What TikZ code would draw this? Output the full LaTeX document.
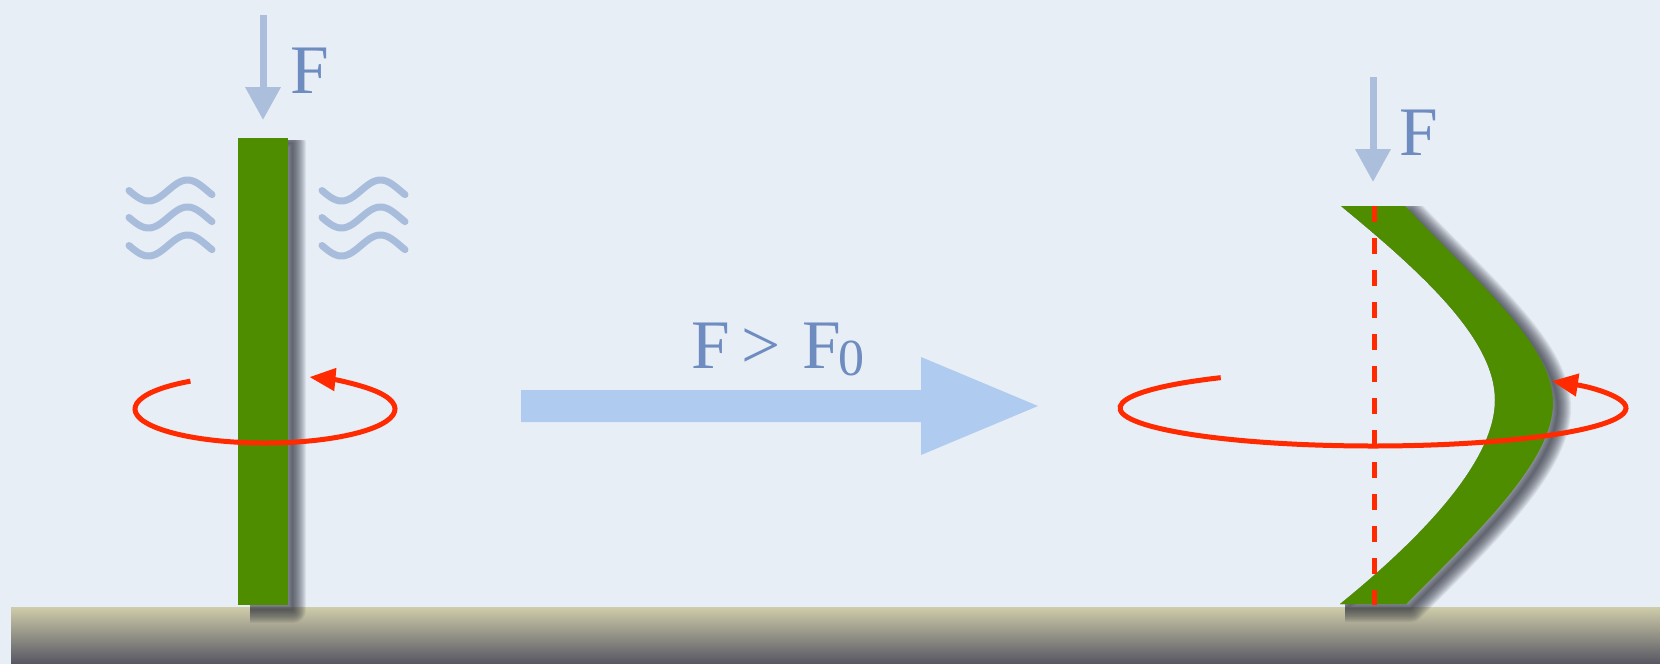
\documentclass[tikz,border=0pt]{standalone}
\usepackage{fontspec}
\setmainfont{Liberation Serif}
\usetikzlibrary{arrows.meta}
\definecolor{bg}{RGB}{232,238,246}
\definecolor{groundtop}{RGB}{207,204,170}
\definecolor{groundmid}{RGB}{150,148,124}
\definecolor{groundbot}{RGB}{86,86,98}
\definecolor{stem}{RGB}{79,141,0}
\definecolor{rotred}{RGB}{255,42,0}
\definecolor{fblue}{RGB}{171,191,221}
\definecolor{ftxt}{RGB}{110,140,192}
\definecolor{wavec}{RGB}{168,188,219}
\definecolor{bigarrow}{RGB}{175,203,240}
\definecolor{shadowc}{RGB}{40,44,56}
\tikzset{
  farrow/.style={draw=fblue, line width=7pt, -{Triangle[length=33pt,width=34pt]}},
  ftext/.style={text=ftxt, font=\fontsize{69.5}{70}\selectfont, inner sep=0pt},
  wave/.style={draw=wavec, line width=7pt, line cap=round},
  rotarrow/.style={draw=rotred, line width=5pt, -{Triangle[length=26pt,width=22pt]}},
  shadowlayer/.style={draw=shadowc, opacity=0.08, line join=round},
  shadowfill/.style={fill=shadowc, opacity=0.08},
}
\def\bentbar{(1341,206) -- (1405,206) .. controls (1480,285) and (1553,345) .. (1553,403)
    .. controls (1553,460) and (1480,530) .. (1406,604) -- (1340,604)
    .. controls (1425,535) and (1495,460) .. (1495,400)
    .. controls (1495,340) and (1425,275) .. cycle}
\begin{document}
\begin{tikzpicture}[x=1pt,y=-1pt]
\useasboundingbox (0,0) rectangle (1660,664);
% background
\fill[bg] (0,0) rectangle (1660,664);
% ground
\shade[top color=groundtop, middle color=groundmid, bottom color=groundbot] (11,607) rectangle (1660,664);
% shadow of left stem
\begin{scope}
  \clip (288,140) -- (700,140) -- (700,664) -- (250,664) -- (250,605) -- (288,605) -- cycle;
  \fill[shadowfill, shift={(5,5)}] (238,138) rectangle (288,605);
  \foreach \w in {2,4,...,26} {
    \draw[shadowlayer, line width=\w pt, shift={(5,5)}] (238,138) rectangle (288,605);
  }
\end{scope}
% shadow of bent stem
\begin{scope}
  \clip (1341,206) -- (1660,206) -- (1660,664) -- (1345,664) -- (1345,604) -- (1340,604)
    .. controls (1425,535) and (1495,460) .. (1495,400)
    .. controls (1495,340) and (1425,275) .. cycle;
  \fill[shadowfill, shift={(5,5)}] \bentbar;
  \foreach \w in {2,4,...,26} {
    \draw[shadowlayer, line width=\w pt, shift={(5,5)}] \bentbar;
  }
\end{scope}
% left stem
\fill[stem] (238,138) rectangle (288,605);
% right bent stem
\fill[stem] \bentbar;
% force arrows
\coordinate (lfTop) at (263,15);
\coordinate (lfTip) at (263,120);
\draw[farrow] (lfTop) -- (lfTip);
\node[ftext, anchor=base west] (fl) at (290,93) {F};
\coordinate (rfTop) at (1373,77);
\coordinate (rfTip) at (1373,182);
\draw[farrow] (rfTop) -- (rfTip);
\node[ftext, anchor=base west] (fr) at (1399,155) {F};
% waves
\foreach \dy in {0,27,55} {
  \draw[wave] plot[domain=0:83, samples=50, smooth] ({129+\x},{190.5+\dy+10.5*sin(\x*4.6154)});
  \draw[wave] plot[domain=0:83, samples=50, smooth] ({322+\x},{190.5+\dy+10.5*sin(\x*4.6154)});
}
% big transition arrow
\fill[bigarrow] (521,390) -- (921,390) -- (921,357) -- (1038,406) -- (921,455) -- (921,422) -- (521,422) -- cycle;
\node[ftext, anchor=base] (cond) at (778,368) {F\hspace{11pt}>\hspace{22pt}F\kern-3pt\raisebox{-7pt}{\fontsize{52}{52}\selectfont 0}};
% dashed axis
\coordinate (dTop) at (1374,206);
\coordinate (dBot) at (1374,605);
\draw[draw=rotred, line width=5pt, dash pattern=on 16pt off 16pt] (dTop) -- (dBot);
% rotation arrows
\coordinate (lc) at (265,409);
\draw[rotarrow] ([shift={(235:130 and 34)}]lc) arc[start angle=235, end angle=-70, x radius=130, y radius=34];
\coordinate (rc) at (1373,408);
\draw[rotarrow] ([shift={(233:253 and 38)}]rc) arc[start angle=233, end angle=-45, x radius=253, y radius=38];
\end{tikzpicture}
\end{document}
